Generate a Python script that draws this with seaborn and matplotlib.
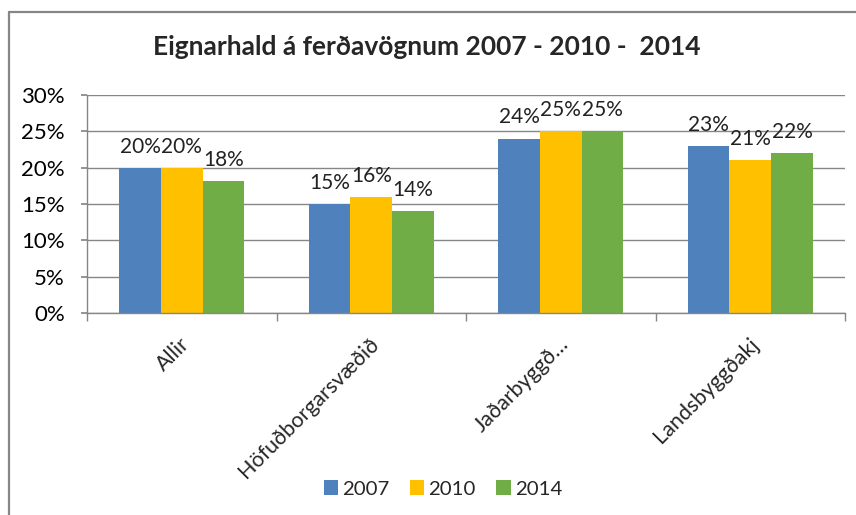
import matplotlib
matplotlib.use("Agg")
import matplotlib.pyplot as plt
import matplotlib.transforms as mtrans
import seaborn as sns
import pandas as pd
from matplotlib.lines import Line2D
from matplotlib.ticker import FuncFormatter, FixedLocator

categories = ["Allir", "Höfuðborgarsvæðið", "Jaðarbyggð…", "Landsbyggðakj"]
years = ["2007", "2010", "2014"]
v2007 = [20, 15, 24, 23]
v2010 = [20, 16, 25, 21]
v2014 = [18.2, 14, 25, 22]
colors = ["#4F81BD", "#FFC000", "#70AD47"]

rows = []
for y, vals in zip(years, [v2007, v2010, v2014]):
    for c, v in zip(categories, vals):
        rows.append({"cat": c, "year": y, "val": v})
df = pd.DataFrame(rows)

sns.set_theme(style="white")
plt.rcParams["font.family"] = ["Lato", "DejaVu Sans"]

W, H = 856, 515
fig = plt.figure(figsize=(W / 100, H / 100), dpi=100)
ax = fig.add_axes([87 / W, 1 - 313 / H, 758 / W, 218 / H])
sns.barplot(data=df, x="cat", y="val", hue="year", palette=colors,
            width=0.66, ax=ax, saturation=1, dodge=True, legend=True,
            linewidth=0, edgecolor="none")

ax.set_ylim(0, 30)
ax.set_yticks([0, 5, 10, 15, 20, 25, 30])
ax.yaxis.set_major_formatter(FuncFormatter(lambda v, p: f"{int(v)}%"))
ax.grid(axis="y", color="#868686", linewidth=1)
ax.set_axisbelow(True)
ax.set_xlabel("")
ax.set_ylabel("")
for s in ["top", "right"]:
    ax.spines[s].set_visible(False)
for s in ["left", "bottom"]:
    ax.spines[s].set_color("#868686")
    ax.spines[s].set_linewidth(1)
ax.set_xlim(-0.5, 3.5)
ax.tick_params(axis="y", labelsize=16, colors="#000000", left=True, length=4,
               color="#868686", pad=12)
ax.tick_params(axis="x", bottom=False, labelsize=15.5, pad=14)
ax.set_xticks(range(4))
ax.set_xticklabels(categories, rotation=45, ha="right", va="center",
                   rotation_mode="anchor")
shift = mtrans.ScaledTranslation(5 / 100, 0, fig.dpi_scale_trans)
for lbl in ax.get_xticklabels():
    lbl.set_transform(lbl.get_transform() + shift)
ax.xaxis.set_minor_locator(FixedLocator([-0.5, 0.5, 1.5, 2.5, 3.5]))
ax.tick_params(axis="x", which="minor", bottom=True, length=6, color="#868686",
               direction="out")

for cont, vals in zip(ax.containers, [v2007, v2010, v2014]):
    ax.bar_label(cont, labels=[f"{round(v):.0f}%" for v in vals], padding=8,
                 fontsize=15, color="#222222")

leg = ax.legend(loc="center", ncol=3, frameon=False, fontsize=14.7,
                handlelength=0.7, handleheight=0.7, handletextpad=0.2,
                columnspacing=1.0)
leg.set_bbox_to_anchor((443 / W, 1 - 489 / H), transform=fig.transFigure)

fig.text(427 / W, 1 - 47 / H, "Eignarhald á ferðavögnum 2007 - 2010 -  2014",
         ha="center", va="center", fontsize=19, fontweight="bold")

fig.add_artist(Line2D([9 / W, 1], [1 - 12 / H, 1 - 12 / H], transform=fig.transFigure,
                      color="#868686", linewidth=1.6))
fig.add_artist(Line2D([9 / W, 9 / W], [0, 1 - 12 / H], transform=fig.transFigure,
                      color="#868686", linewidth=1.6))

fig.savefig("out.png", dpi=100, facecolor="white")
